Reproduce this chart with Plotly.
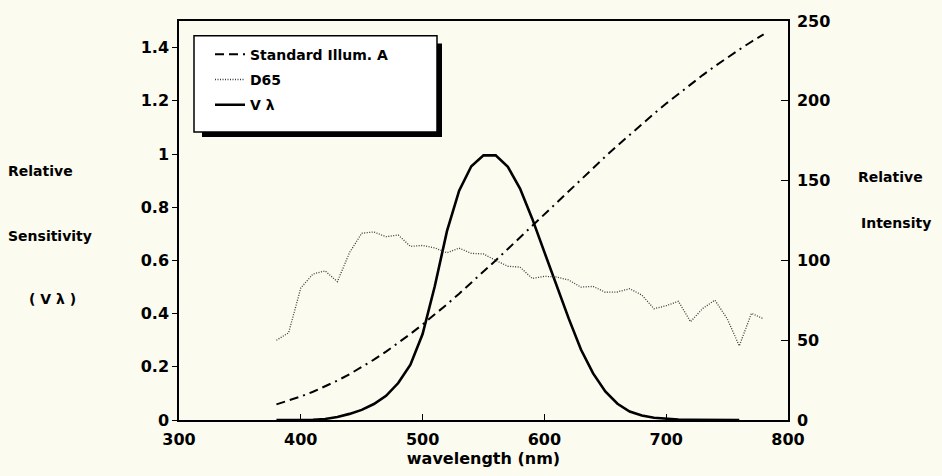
import plotly.graph_objects as go

# wavelengths (nm)
wl_v = [380, 390, 400, 410, 420, 430, 440, 450, 460, 470, 480, 490, 500, 510, 520,
        530, 540, 550, 560, 570, 580, 590, 600, 610, 620, 630, 640, 650, 660, 670,
        680, 690, 700, 710, 720, 730, 740, 750, 760]
v_lambda = [0.00004, 0.00012, 0.0004, 0.0012, 0.004, 0.0116, 0.023, 0.038, 0.06, 0.091,
            0.139, 0.208, 0.323, 0.503, 0.71, 0.862, 0.954, 0.995, 0.995, 0.952,
            0.87, 0.757, 0.631, 0.503, 0.381, 0.265, 0.175, 0.107, 0.061, 0.032,
            0.017, 0.0082, 0.0041, 0.0021, 0.00105, 0.00052, 0.00025, 0.00012, 0.00006]

wl_s = [380, 390, 400, 410, 420, 430, 440, 450, 460, 470, 480, 490, 500, 510, 520,
        530, 540, 550, 560, 570, 580, 590, 600, 610, 620, 630, 640, 650, 660, 670,
        680, 690, 700, 710, 720, 730, 740, 750, 760, 770, 780]
illum_a = [9.80, 12.09, 14.71, 17.68, 20.99, 24.67, 28.70, 33.09, 37.81, 42.87,
           48.24, 53.91, 59.86, 66.06, 72.50, 79.13, 85.95, 92.91, 100.0, 107.18,
           114.44, 121.73, 129.04, 136.35, 143.62, 150.84, 157.98, 165.03, 171.96, 178.77,
           185.43, 191.93, 198.26, 204.41, 210.36, 216.12, 221.67, 227.00, 232.12, 237.01,
           241.68]
d65 = [49.98, 54.65, 82.75, 91.49, 93.43, 86.68, 104.86, 117.01, 117.81, 114.86,
       115.92, 108.81, 109.35, 107.80, 104.79, 107.69, 104.41, 104.05, 100.00, 96.33,
       95.79, 88.69, 90.01, 89.60, 87.70, 83.29, 83.70, 80.03, 80.21, 82.28,
       78.28, 69.72, 71.61, 74.35, 61.60, 69.89, 75.09, 63.59, 46.42, 66.81,
       63.38]

x_ticks = [300, 400, 500, 600, 700, 800]
left_ticks = [0, 0.2, 0.4, 0.6, 0.8, 1, 1.2, 1.4]
right_ticks = [0, 50, 100, 150, 200, 250]

BG = "#fcfbf0"
FONT = "DejaVu Sans"

# plot-area geometry in pixels (used to place legend box & side labels)
W, H = 942, 476
L, R, T, B = 179, 788, 14, 420


def px_x(p):
    return (p - L) / (R - L)


def px_y(p):
    return (B - p) / (B - T)


fig = go.Figure()
fig.add_trace(go.Scatter(
    x=wl_s, y=illum_a, yaxis="y2", mode="lines", name="Standard Illum. A",
    legendgroup="a", line=dict(color="black", width=2, dash="9px,5px,9px,5px,2px,5px")))
fig.add_trace(go.Scatter(
    x=wl_s, y=d65, yaxis="y2", mode="lines", name="D65",
    legendgroup="b", line=dict(color="#3a3a3a", width=1.3, dash="1px,1.5px")))
fig.add_trace(go.Scatter(
    x=wl_v, y=v_lambda, mode="lines", name="V λ",
    legendgroup="c", line=dict(color="black", width=2.6)))

axis_font = dict(family=FONT, size=16, color="black", weight="bold")

fig.update_layout(
    width=W, height=H,
    margin=dict(l=L, r=W - R, t=T, b=H - B),
    paper_bgcolor=BG, plot_bgcolor=BG,
    font=dict(family=FONT, size=12, color="black"),
    xaxis=dict(range=[300, 800], tickvals=x_ticks, ticks="inside", ticklen=6,
               tickwidth=1.2, tickcolor="black", showline=True, linecolor="black",
               linewidth=1.5, mirror=True, showgrid=False, zeroline=False,
               tickfont=axis_font, ticklabelstandoff=4,
               title=dict(text="wavelength (nm)", font=axis_font, standoff=2)),
    yaxis=dict(range=[0, 1.5], tickvals=left_ticks, ticks="outside", ticklen=5,
               tickwidth=1.2, tickcolor="black", showline=True, linecolor="black",
               linewidth=1.5, showgrid=False, zeroline=False, tickfont=axis_font),
    yaxis2=dict(range=[0, 250], tickvals=right_ticks, overlaying="y", side="right",
                ticks="inside", ticklen=7, tickwidth=1.2, tickcolor="black",
                showline=True, linecolor="black", linewidth=1.5, showgrid=False,
                zeroline=False, tickfont=axis_font, ticklabelstandoff=4),
    legend=dict(x=px_x(210), y=px_y(32), xanchor="left", yanchor="top",
                bgcolor="rgba(0,0,0,0)", borderwidth=0,
                font=dict(family=FONT, size=14, color="black", weight="bold"),
                traceorder="grouped", tracegroupgap=4, itemwidth=30),
    showlegend=True,
)

# legend frame and its drop shadow
fig.add_shape(type="rect", xref="paper", yref="paper",
              x0=px_x(202), x1=px_x(442), y0=px_y(132), y1=px_y(37),
              fillcolor="black", line_width=0, layer="above")
fig.add_shape(type="rect", xref="paper", yref="paper",
              x0=px_x(194), x1=px_x(437), y0=px_y(127), y1=px_y(29),
              fillcolor="white", line=dict(color="black", width=1.5), layer="above")

lab = dict(family=FONT, size=14, color="black", weight="bold")
for txt, xc, y in [("Relative", 40, 167), ("Sensitivity", 50, 233), ("( V λ )", 52, 297),
                   ("Relative", 890, 173), ("Intensity", 896, 220)]:
    fig.add_annotation(text=txt, xref="paper", yref="paper", x=px_x(xc), y=px_y(y),
                       xanchor="center", yanchor="middle", showarrow=False, font=lab)

fig.write_html("out.html", config={"displayModeBar": False},
               post_script="document.body.style.margin='0';document.body.style.padding='0';")
